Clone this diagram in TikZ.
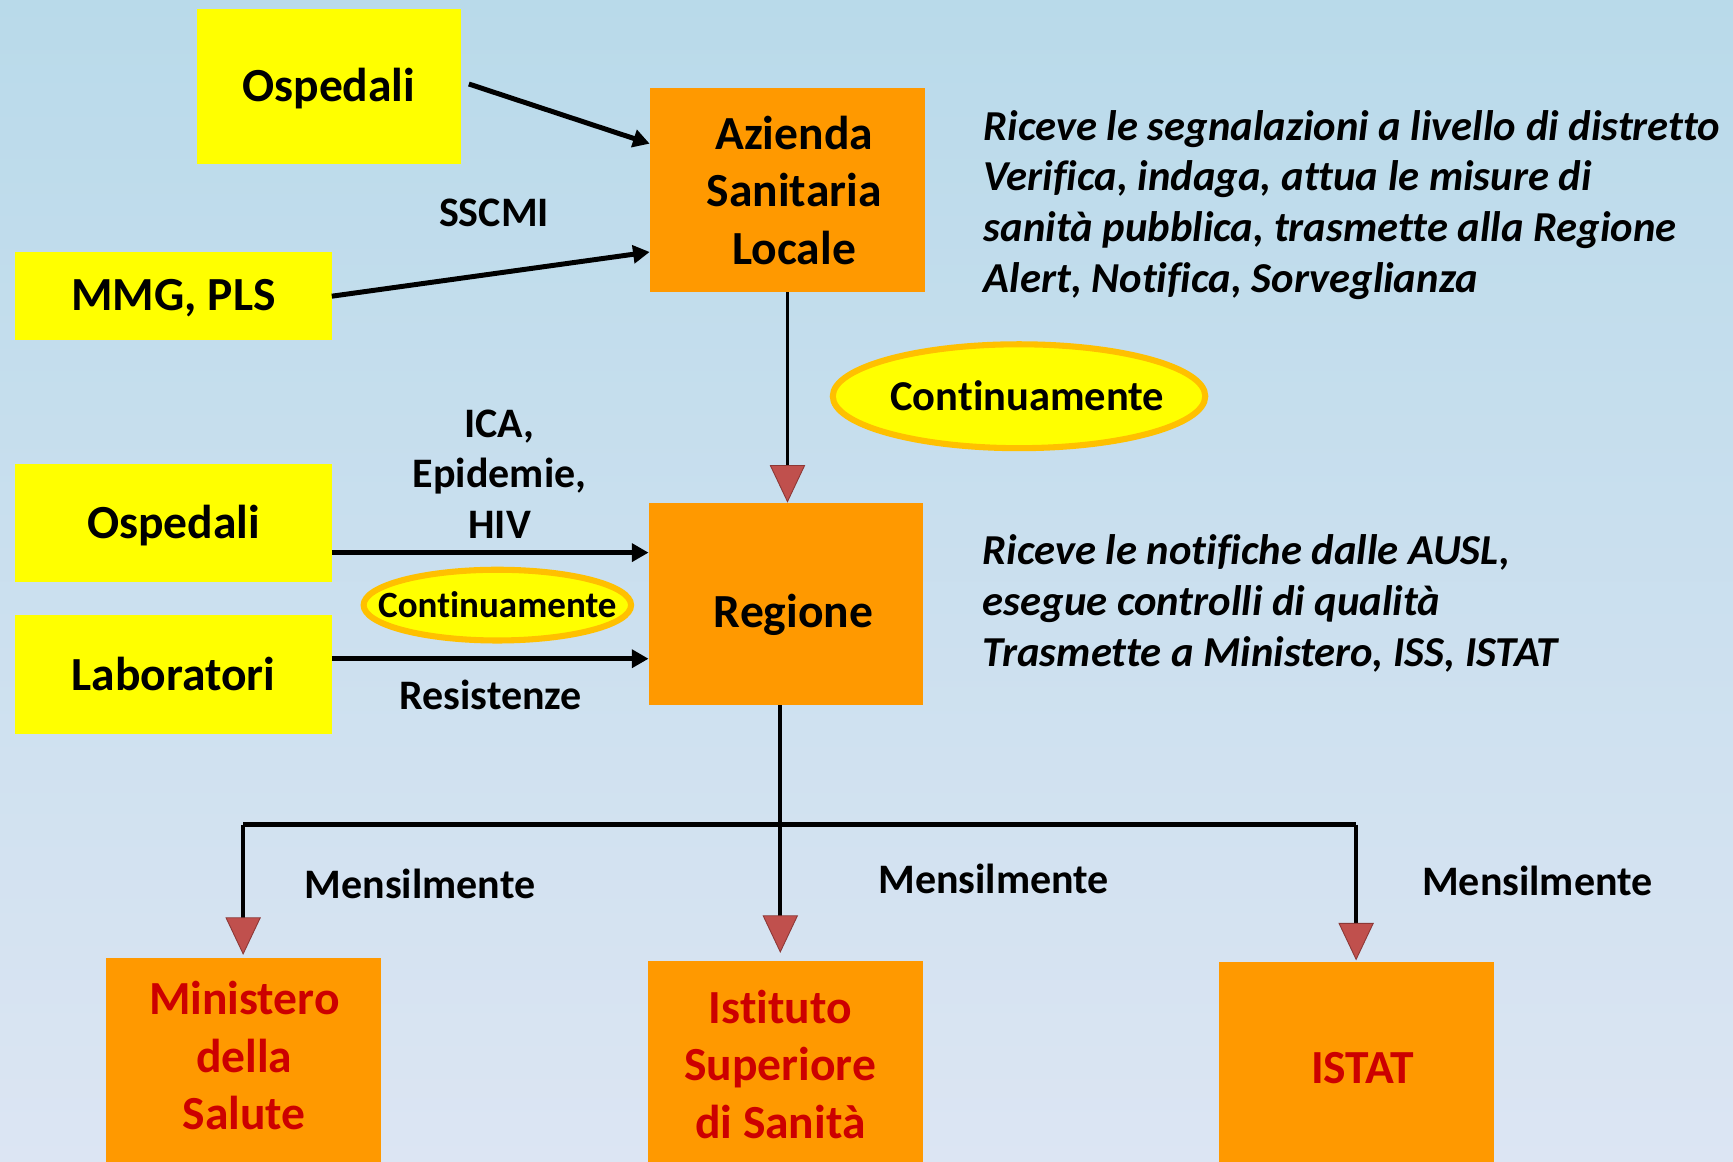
\documentclass[tikz,border=0pt]{standalone}
\usepackage{fontspec}
\setmainfont{Carlito}[Ligatures=NoCommon]
\usetikzlibrary{arrows.meta,shapes.geometric,calc}
\definecolor{orng}{RGB}{255,153,0}
\definecolor{ylw}{RGB}{255,255,0}
\definecolor{gold}{RGB}{255,192,0}
\definecolor{redtxt}{RGB}{204,0,0}
\definecolor{tipred}{RGB}{192,80,77}
\definecolor{tipedge}{RGB}{140,56,54}
\definecolor{bgtop}{RGB}{185,218,234}
\definecolor{bgbot}{RGB}{220,229,243}
\begin{document}
\begin{tikzpicture}[x=1pt,y=-1pt,
  box/.style={draw=none,inner sep=0pt},
  ybox/.style={box,fill=ylw},
  obox/.style={box,fill=orng},
  btxt/.style={inner sep=0pt,align=center,font=\fontsize{43}{52}\selectfont\bfseries},
  rtxt/.style={btxt,text=redtxt},
  lbl/.style={inner sep=0pt,align=center,font=\fontsize{38}{46}\selectfont\bfseries},
  note/.style={inner sep=0pt,align=left,anchor=west,font=\fontsize{38.6}{46}\selectfont\bfseries\itshape},
  oval/.style={ellipse,fill=ylw,draw=gold,line width=5.5pt,inner sep=0pt},
  blk/.style={line width=4.5pt,-{Triangle[length=15pt,width=16pt]}},
  redarr/.style={line width=3.5pt,-{Triangle[length=34pt,width=32pt,fill=tipred,color=tipedge,line width=0.8pt]}}
]
\useasboundingbox (0,0) rectangle (1568,1051);
\fill[top color=bgtop,bottom color=bgbot] (0,0) rectangle (1568,1051);

% boxes
\node[ybox,minimum width=239pt,minimum height=140pt] (osp1) at (297.5,78) {};
\node[obox,minimum width=249pt,minimum height=184pt] (asl) at (712.5,172) {};
\node[ybox,minimum width=286pt,minimum height=80pt] (mmg) at (157,268) {};
\node[ybox,minimum width=286pt,minimum height=107pt] (osp2) at (157,473.5) {};
\node[ybox,minimum width=286pt,minimum height=108pt] (lab) at (157,610) {};
\node[obox,minimum width=248pt,minimum height=183pt] (reg) at (711,546.5) {};
\node[obox,minimum width=249pt,minimum height=200pt,anchor=north] (min) at (220.5,867) {};
\node[obox,minimum width=249pt,minimum height=200pt,anchor=north] (iss) at (710.5,869) {};
\node[obox,minimum width=249pt,minimum height=200pt,anchor=north] (ist) at (1227.5,870) {};

% box texts
\node[btxt] (osp1t) at (297.5,80) {Ospedali};
\node[btxt] (aslt) at (718.5,172) {Azienda\\Sanitaria\\Locale};
\node[btxt] (mmgt) at (157,270) {MMG, PLS};
\node[btxt] (osp2t) at (157,475.5) {Ospedali};
\node[btxt] (labt) at (157,610) {Laboratori};
\node[btxt] (regt) at (718,556.5) {Regione};
\node[rtxt] (mint) at (221,955) {Ministero\\della\\Salute};
\node[rtxt] (isst) at (706,963) {Istituto\\Superiore\\di Sanità};
\node[rtxt] (istt) at (1233,966) {ISTAT};

% ellipses
\node[oval,minimum width=337pt,minimum height=94pt,font=\fontsize{38.5}{44}\selectfont\bfseries] (cont1) at (922,358.5) {\makebox[0pt]{\hspace{15pt}Continuamente}};
\node[oval,minimum width=242pt,minimum height=64pt,font=\fontsize{33.5}{40}\selectfont\bfseries] (cont2) at (450,547.5) {\makebox[0pt]{Continuamente}};

% labels
\node[lbl] (sscmi) at (447,193) {SSCMI};
\node[lbl] (ica) at (452,429) {ICA,\\Epidemie,\\HIV};
\node[lbl] (res) at (444,629) {Resistenze};
\node[lbl] (m1) at (380,800) {Mensilmente};
\node[lbl] (m2) at (899,795) {Mensilmente};
\node[lbl] (m3) at (1391,797) {Mensilmente};

% notes
\node[note] (n1a) at (890,117) {Riceve le segnalazioni a livello di distretto};
\node[note] (n1b) at (890,162) {Verifica, indaga, attua le misure di};
\node[note] (n1c) at (890,208) {sanità pubblica, trasmette alla Regione};
\node[note] (n1d) at (890,254) {Alert, Notifica, Sorveglianza};
\node[note] (n2a) at (889,499.5) {Riceve le notifiche dalle AUSL,};
\node[note] (n2b) at (889,546.5) {esegue controlli di qualità};
\node[note] (n2c) at (889,592.5) {Trasmette a Ministero, ISS, ISTAT};

% connectors
\draw[blk] ($(osp1.east)+(7,-2)$) -- ($(asl.west)+(0,-42)$);
\draw[blk] (mmg.east) -- ($(asl.west)+(0,56)$);
\draw[redarr] (asl.south) -- (asl.south |- reg.north);
\draw[blk] ($(osp2.east)+(0,26.5)$) -- ($(reg.west)+(0,-46.5)$);
\draw[blk] ($(lab.east)+(0,-14)$) -- ($(reg.west)+(0,49.5)$);

\coordinate (jl) at (220,746);
\coordinate (jr) at (1227,746);
\draw[line width=4pt] (jl) -- (jr);
\draw[redarr] ($(reg.south)+(-5,0)$) -- ($(reg.south)+(-5,224)$);
\draw[redarr] (jl) -- ($(min.north)+(-0.5,-3)$);
\draw[redarr] (jr) -- ($(ist.north)+(-0.5,-1)$);
\end{tikzpicture}
\end{document}
